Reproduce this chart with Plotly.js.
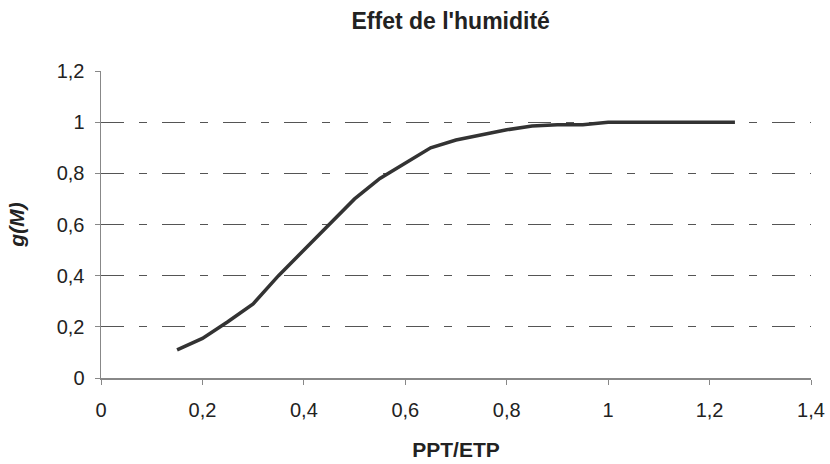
<!DOCTYPE html>
<html>
<head>
<meta charset="utf-8">
<script src="https://cdn.plot.ly/plotly-3.0.1.min.js"></script>
<style>html,body{margin:0;padding:0;background:#fff;}#chart{width:830px;height:464px;}</style>
</head>
<body>
<div id="chart"></div>
<script>
const ratio = [0.15,0.2,0.25,0.3,0.35,0.4,0.45,0.5,0.55,0.6,0.65,0.7,0.75,0.8,0.85,0.9,0.95,1.0,1.05,1.1,1.15,1.2,1.25];
const gM = [0.11,0.155,0.22,0.29,0.40,0.50,0.60,0.70,0.78,0.84,0.90,0.93,0.95,0.97,0.985,0.99,0.99,1,1,1,1,1,1];
const xTicks = [0,0.2,0.4,0.6,0.8,1,1.2,1.4];
const xTickText = ['0','0,2','0,4','0,6','0,8','1','1,2','1,4'];
const yTicks = [0,0.2,0.4,0.6,0.8,1,1.2];
const yTickText = ['0','0,2','0,4','0,6','0,8','1','1,2'];

const trace = {
  x: ratio, y: gM, type: 'scatter', mode: 'lines',
  line: {color: '#333333', width: 3.5}, showlegend: false, hoverinfo: 'skip'
};
const font = 'Liberation Sans, Arial, sans-serif';
const layout = {
  width: 830, height: 464,
  margin: {l: 101, r: 19, t: 71, b: 86},
  paper_bgcolor: '#ffffff', plot_bgcolor: '#ffffff',
  font: {family: font, color: '#222222', size: 20},
  title: {text: "<b>Effet de l'humidité</b>", xref: 'container', x: 0.543, xanchor: 'center',
          yref: 'container', y: 0.955, yanchor: 'middle',
          font: {family: font, size: 23, color: '#222222'}},
  xaxis: {
    range: [0, 1.4], tickvals: xTicks, ticktext: xTickText,
    showgrid: false, zeroline: false, showline: true, linecolor: '#888888', linewidth: 1.5,
    ticks: 'outside', ticklen: 5, tickcolor: '#888888', tickwidth: 1, ticklabelstandoff: 8,
    tickfont: {size: 20, color: '#222222'},
    title: {text: '<b>PPT/ETP</b>', font: {size: 21, color: '#222222'}, standoff: 23}
  },
  yaxis: {
    range: [0, 1.2], tickvals: yTicks, ticktext: yTickText,
    showgrid: true, gridcolor: '#555555', gridwidth: 1, griddash: '23px,15px,8px,15px',
    zeroline: false, showline: true, linecolor: '#888888', linewidth: 1.5,
    ticks: 'outside', ticklen: 5, tickcolor: '#888888', tickwidth: 1, ticklabelstandoff: 6,
    tickfont: {size: 20, color: '#222222'},
    title: {text: '<b><i>g(M)</i></b>', font: {size: 21, color: '#222222'}, standoff: 26}
  }
};
Plotly.newPlot('chart', [trace], layout, {displayModeBar: false, staticPlot: true});
</script>
</body>
</html>
